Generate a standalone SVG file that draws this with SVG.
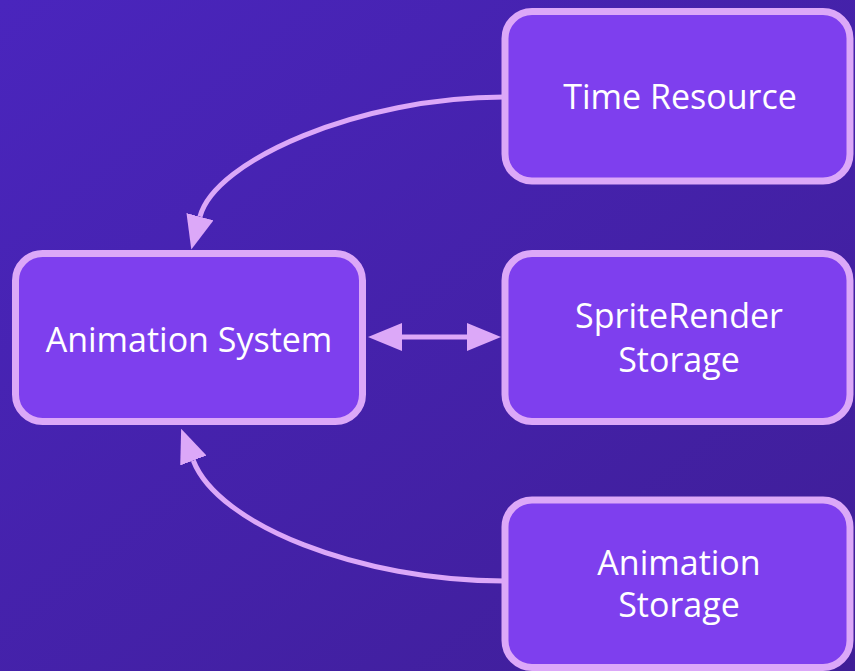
<svg xmlns="http://www.w3.org/2000/svg" width="855" height="671" viewBox="0 0 855 671">
  <defs>
    <linearGradient id="bg" x1="0" y1="0" x2="1" y2="1">
      <stop offset="0" stop-color="#4A25BD"/>
      <stop offset="1" stop-color="#3F1E97"/>
    </linearGradient>
    <marker id="arrow" viewBox="0 -14 34 28" refX="0" refY="0" markerWidth="34" markerHeight="28" markerUnits="userSpaceOnUse" orient="auto-start-reverse">
      <path d="M0,-14 L34,0 L0,14 Z" fill="#DCA8F8"/>
    </marker>
    <style>
      .node rect { fill: #7E3FEE; stroke: #DCA8F8; stroke-width: 7; }
      .node text { font-family: "Open Sans", "Noto Sans", sans-serif; font-size: 34px; fill: #FFFFFF; text-anchor: middle; }
      .edge { fill: none; stroke: #DCA8F8; stroke-width: 5; }
    </style>
  </defs>
  <rect x="0" y="0" width="855" height="671" fill="url(#bg)"/>

  <g id="connectors">
    <path class="edge" d="M504,97 C360,97 215,160 200,216.7" marker-end="url(#arrow)"/>
    <path class="edge" d="M504,581 C360,581 218,525 193.3,460.5" marker-end="url(#arrow)"/>
    <path class="edge" d="M402,337 L467,337" marker-start="url(#arrow)" marker-end="url(#arrow)"/>
  </g>

  <g id="time-resource" class="node">
    <rect x="505" y="11.5" width="345" height="169.5" rx="27"/>
    <text x="680" y="109">Time Resource</text>
  </g>
  <g id="animation-system" class="node">
    <rect x="15.5" y="253.5" width="347" height="168" rx="27"/>
    <text x="189" y="352">Animation System</text>
  </g>
  <g id="spriterender-storage" class="node">
    <rect x="505" y="253.5" width="345" height="168" rx="27"/>
    <text x="679" y="328">SpriteRender</text>
    <text x="679" y="372">Storage</text>
  </g>
  <g id="animation-storage" class="node">
    <rect x="505" y="500" width="345" height="167.5" rx="27"/>
    <text x="679" y="575">Animation</text>
    <text x="679" y="617">Storage</text>
  </g>
</svg>
